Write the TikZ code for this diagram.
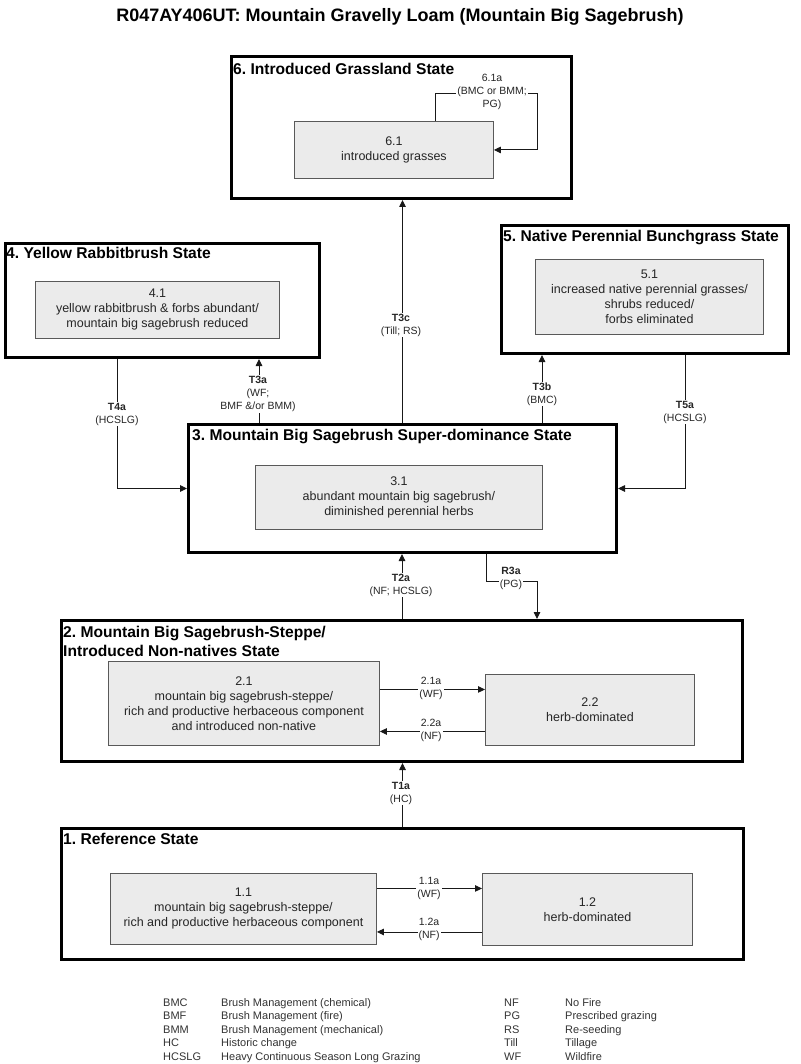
\documentclass[tikz,border=0pt]{standalone}
\usepackage{fontspec}
\setmainfont{Liberation Sans}
\usetikzlibrary{arrows.meta}
\frenchspacing
\newcommand\mytitlefont{\fontsize{15.6}{19}\selectfont\bfseries}
\newcommand\mysubfont{\fontsize{12.5}{15}\selectfont}
\newcommand\mylabfont{\fontsize{10.5}{13}\selectfont}
\newcommand\mylegfont{\fontsize{11}{13}\selectfont}
\begin{document}
\begin{tikzpicture}[x=1pt,y=-1pt,
  state/.style={draw=black, line width=3pt, fill=white, inner sep=0pt, anchor=north west},
  sub/.style={draw=black!65, line width=0.9pt, fill=black!8, text=black!85, align=center, font=\mysubfont, inner sep=0pt, anchor=north west},
  stitle/.style={font=\mytitlefont, anchor=base west, inner sep=0pt, align=left},
  lab/.style={fill=white, align=center, font=\mylabfont, inner sep=1pt, text=black!85},
  conn/.style={line width=0.9pt, draw=black!90},
  arr/.style={conn, -{Triangle[length=7pt,width=6.5pt]}},
  leg/.style={font=\mylegfont, anchor=base west, inner sep=0pt, text=black!80}]
\useasboundingbox (0,0) rectangle (800,1064);
\fill[white] (0,0) rectangle (800,1064);

\node[font=\fontsize{18}{21}\selectfont\bfseries] (title) at (400,17) {R047AY406UT: Mountain Gravelly Loam (Mountain Big Sagebrush)};

% states
\node[state, minimum width=340pt, minimum height=142pt] (s6) at (230,55) {};
\node[state, minimum width=314pt, minimum height=114pt] (s4) at (3.5,242) {};
\node[state, minimum width=287pt, minimum height=128pt] (s5) at (500,224) {};
\node[state, minimum width=428pt, minimum height=128pt] (s3) at (187,423) {};
\node[state, minimum width=681pt, minimum height=141pt] (s2) at (60,619) {};
\node[state, minimum width=682pt, minimum height=131pt] (s1) at (60,827) {};

\node[stitle] (t6) at (233,75) {6. Introduced Grassland State};
\node[stitle] (t4) at (6,259) {4. Yellow Rabbitbrush State};
\node[stitle] (t5) at (503,242) {5. Native Perennial Bunchgrass State};
\node[stitle] (t3) at (192,440) {3. Mountain Big Sagebrush Super-dominance State};
\node[stitle] (t2) at (63,637) {2. Mountain Big Sagebrush-Steppe/};
\node[stitle] (t2b) at (63,656) {Introduced Non-natives State};
\node[stitle] (t1) at (63,844) {1. Reference State};

% community phases
\node[sub, minimum width=199pt, minimum height=57pt] (b61) at (294,121) {6.1\\introduced grasses};
\node[sub, minimum width=244pt, minimum height=57pt] (b41) at (35,281) {4.1\\yellow rabbitbrush \& forbs abundant/\\mountain big sagebrush reduced};
\node[sub, minimum width=228pt, minimum height=75pt] (b51) at (535,259) {5.1\\increased native perennial grasses/\\shrubs reduced/\\forbs eliminated};
\node[sub, minimum width=287pt, minimum height=64pt] (b31) at (255,465) {3.1\\abundant mountain big sagebrush/\\diminished perennial herbs};
\node[sub, minimum width=271pt, minimum height=84pt] (b21) at (108,661) {2.1\\mountain big sagebrush-steppe/\\rich and productive herbaceous component\\and introduced non-native};
\node[sub, minimum width=209pt, minimum height=71pt] (b22) at (485,674) {2.2\\herb-dominated};
\node[sub, minimum width=266pt, minimum height=71pt] (b11) at (110,873) {1.1\\mountain big sagebrush-steppe/\\rich and productive herbaceous component};
\node[sub, minimum width=210pt, minimum height=72pt] (b12) at (482,873) {1.2\\herb-dominated};

% connectors between states
\draw[arr] (s3.north) -- (s3.north |- s6.south);
\coordinate (c3a) at ([xshift=72pt]s3.north west);
\draw[arr] (c3a) -- (c3a |- s4.south);
\coordinate (c3b) at ([xshift=355pt]s3.north west);
\draw[arr] (c3b) -- (c3b |- s5.south);
\draw[arr] ([xshift=114pt]s4.south west) |- (s3.west);
\draw[arr] ([xshift=185pt]s5.south west) |- (s3.east);
\draw[arr] (s2.north) -- (s2.north |- s3.south);
\coordinate (cr3) at ([xshift=299pt]s3.south west);
\coordinate (cr3b) at ([xshift=477pt]s2.north west);
\draw[arr] (cr3) -- ++(0,27) -| (cr3b);
\draw[arr] (s1.north) -- (s1.north |- s2.south);

% loop 6.1a
\coordinate (c61) at (537,93);
\draw[arr] ([xshift=141pt]b61.north west) |- (c61) |- (b61.east);

% within-state transitions
\coordinate (a21) at ([yshift=14pt]b21.east);
\draw[arr] (a21) -- (a21 -| b22.west);
\coordinate (a22) at ([yshift=-21.5pt]b22.west);
\draw[arr] (a22) -- (a22 -| b21.east);
\coordinate (a11) at ([yshift=20.5pt]b11.east);
\draw[arr] (a11) -- (a11 -| b12.west);
\coordinate (a12) at ([yshift=-22.5pt]b12.west);
\draw[arr] (a12) -- (a12 -| b11.east);

% labels
\node[lab] (l61) at (492,92) {6.1a\\(BMC or BMM;\\PG)};
\node[lab] (l3c) at (401,325) {\textbf{T3c}\\(Till; RS)};
\node[lab] (l3a) at (258,394) {\textbf{T3a}\\(WF;\\BMF \&/or BMM)};
\node[lab] (l4a) at (117,414) {\textbf{T4a}\\(HCSLG)};
\node[lab] (l3b) at (542,394) {\textbf{T3b}\\(BMC)};
\node[lab] (l5a) at (685,412) {\textbf{T5a}\\(HCSLG)};
\node[lab] (l2a) at (401,585) {\textbf{T2a}\\(NF; HCSLG)};
\node[lab] (lr3) at (511,578) {\textbf{R3a}\\(PG)};
\node[lab] (l1a) at (401,793) {\textbf{T1a}\\(HC)};
\node[lab] (l21) at (431,688) {2.1a\\(WF)};
\node[lab] (l22) at (431,730) {2.2a\\(NF)};
\node[lab] (l11) at (429,888) {1.1a\\(WF)};
\node[lab] (l12) at (429,929) {1.2a\\(NF)};

% legend
\node[leg] (k1) at (163,1006) {BMC};
\node[leg] (k2) at (163,1019.5) {BMF};
\node[leg] (k3) at (163,1033) {BMM};
\node[leg] (k4) at (163,1046.5) {HC};
\node[leg] (k5) at (163,1060) {HCSLG};
\node[leg] (d1) at (221,1006) {Brush Management (chemical)};
\node[leg] (d2) at (221,1019.5) {Brush Management (fire)};
\node[leg] (d3) at (221,1033) {Brush Management (mechanical)};
\node[leg] (d4) at (221,1046.5) {Historic change};
\node[leg] (d5) at (221,1060) {Heavy Continuous Season Long Grazing};
\node[leg] (k6) at (504,1006) {NF};
\node[leg] (k7) at (504,1019.5) {PG};
\node[leg] (k8) at (504,1033) {RS};
\node[leg] (k9) at (504,1046.5) {Till};
\node[leg] (k10) at (504,1060) {WF};
\node[leg] (d6) at (565,1006) {No Fire};
\node[leg] (d7) at (565,1019.5) {Prescribed grazing};
\node[leg] (d8) at (565,1033) {Re-seeding};
\node[leg] (d9) at (565,1046.5) {Tillage};
\node[leg] (d10) at (565,1060) {Wildfire};
\end{tikzpicture}
\end{document}
